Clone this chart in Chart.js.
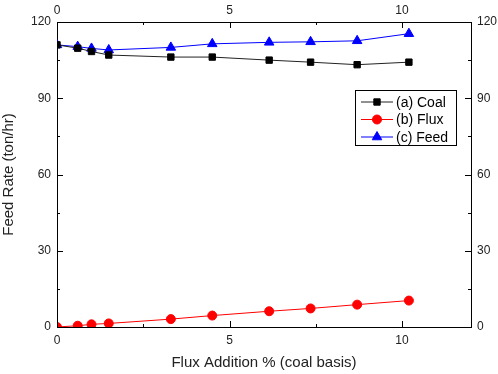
<!DOCTYPE html>
<html lang="en">
<head>
<meta charset="UTF-8">
<title>Feed Rate vs Flux Addition</title>
<script src="https://cdn.jsdelivr.net/npm/chart.js"></script>
<style>
  html, body { margin: 0; padding: 0; background: #fff; }
  #wrap { width: 498px; height: 374px; }
</style>
</head>
<body>
<div id="wrap"><canvas id="feedChart" width="498" height="374"></canvas></div>
<script>
// data
const fluxPct = [0, 0.6, 1.0, 1.5, 3.3, 4.5, 6.15, 7.35, 8.7, 10.2];
const coalRate = [111, 109.7, 108.4, 107.0, 106.2, 106.2, 105.0, 104.2, 103.2, 104.2];
const fluxRate = [0, 0.5, 1.05, 1.4, 3.1, 4.5, 6.2, 7.3, 8.8, 10.4];
const feedRate = [111, 110.3, 109.6, 109.0, 110.0, 111.4, 112.0, 112.2, 112.6, 115.4];
const seriesNames = ['(a) Coal', '(b) Flux', '(c) Feed'];
const xMajor = [0, 5, 10];
const xMinor = [2.5, 7.5];
const yMajor = [0, 30, 60, 90, 120];
const yMinor = [15, 45, 75, 105];

Chart.defaults.font.family = "'Liberation Sans', Arial, sans-serif";
Chart.defaults.font.size = 12;
Chart.defaults.color = '#222';

function pts(ys) {
    return fluxPct.map((x, i) => ({ x: x, y: ys[i] }));
}

// ticks drawn inward on all four sides
const innerTicks = {
    id: 'innerTicks',
    afterDraw(chart) {
        const ctx = chart.ctx, a = chart.chartArea;
        const sx = chart.scales.x, sy = chart.scales.y;
        ctx.save();
        ctx.strokeStyle = '#000';
        ctx.lineWidth = 1;
        ctx.beginPath();
        const doX = (v, len) => {
            const p = Math.round(sx.getPixelForValue(v)) + 0.5;
            ctx.moveTo(p, a.bottom); ctx.lineTo(p, a.bottom - len);
            ctx.moveTo(p, a.top); ctx.lineTo(p, a.top + len);
        };
        const doY = (v, len) => {
            const p = Math.round(sy.getPixelForValue(v)) + 0.5;
            ctx.moveTo(a.left, p); ctx.lineTo(a.left + len, p);
            ctx.moveTo(a.right, p); ctx.lineTo(a.right - len, p);
        };
        xMajor.forEach(v => doX(v, 6));
        xMinor.forEach(v => doX(v, 3));
        yMajor.forEach(v => doY(v, 6));
        yMinor.forEach(v => doY(v, 3));
        ctx.stroke();
        ctx.restore();
    }
};

// boxed legend inside the plot
const boxLegend = {
    id: 'boxLegend',
    afterDraw(chart) {
        const ctx = chart.ctx;
        const bx = 355.5, by = 90.5, bw = 101, bh = 55;
        ctx.save();
        ctx.fillStyle = '#fff';
        ctx.fillRect(bx, by, bw, bh);
        ctx.strokeStyle = '#000';
        ctx.lineWidth = 1;
        ctx.strokeRect(bx, by, bw, bh);
        ctx.font = "14px 'Liberation Sans', Arial, sans-serif";
        ctx.textBaseline = 'middle';
        chart.data.datasets.forEach((ds, i) => {
            const y = 102 + i * 17.5;
            ctx.strokeStyle = ds.borderColor;
            ctx.lineWidth = 1;
            ctx.beginPath();
            ctx.moveTo(361, y); ctx.lineTo(393, y);
            ctx.stroke();
            ctx.fillStyle = ds.pointBackgroundColor;
            ctx.strokeStyle = ds.pointBorderColor;
            Chart.helpers.drawPoint(ctx, {
                pointStyle: ds.pointStyle,
                radius: ds.pointRadius,
                rotation: 0,
                borderWidth: 1
            }, 377, y);
            ctx.fillStyle = '#000';
            ctx.fillText(ds.label, 396, y + 1);
        });
        ctx.restore();
    }
};

const axisFont = { size: 12 };
const ctx = document.getElementById('feedChart').getContext('2d');
const feedChart = new Chart(ctx, {
    type: 'line',
    data: {
        datasets: [{
            label: seriesNames[0],
            data: pts(coalRate),
            borderColor: '#222',
            backgroundColor: '#000',
            pointBackgroundColor: '#000',
            pointBorderColor: '#000',
            pointStyle: 'rect',
            pointRadius: 4.5,
            borderWidth: 1
        }, {
            label: seriesNames[1],
            data: pts(fluxRate),
            borderColor: '#ff0000',
            backgroundColor: '#ff0000',
            pointBackgroundColor: '#ff0000',
            pointBorderColor: '#ff0000',
            pointStyle: 'circle',
            pointRadius: 4.5,
            borderWidth: 1
        }, {
            label: seriesNames[2],
            data: pts(feedRate),
            borderColor: '#0000ff',
            backgroundColor: '#0000ff',
            pointBackgroundColor: '#0000ff',
            pointBorderColor: '#0000ff',
            pointStyle: 'triangle',
            pointRadius: 5.5,
            borderWidth: 1
        }]
    },
    options: {
        responsive: false,
        animation: false,
        layout: { padding: 0 },
        plugins: {
            legend: { display: false },
            tooltip: { enabled: false }
        },
        scales: {
            x: {
                type: 'linear', position: 'bottom', min: 0, max: 12,
                afterBuildTicks: s => { s.ticks = xMajor.map(v => ({ value: v })); },
                ticks: { font: axisFont, padding: 6, maxRotation: 0 },
                grid: { display: false, drawTicks: false },
                border: { color: '#000', width: 1 },
                title: { display: true, text: 'Flux Addition % (coal basis)', font: { size: 15 }, padding: { top: 4, bottom: 2 } },
                afterFit: s => { s.height = 47; }
            },
            x2: {
                type: 'linear', position: 'top', min: 0, max: 12,
                afterBuildTicks: s => { s.ticks = xMajor.map(v => ({ value: v })); },
                ticks: { font: axisFont, padding: 4, maxRotation: 0 },
                grid: { display: false, drawTicks: false },
                border: { color: '#000', width: 1 },
                afterFit: s => { s.height = 22; }
            },
            y: {
                type: 'linear', position: 'left', min: 0, max: 120,
                afterBuildTicks: s => { s.ticks = yMajor.map(v => ({ value: v })); },
                ticks: { font: axisFont, padding: 6 },
                grid: { display: false, drawTicks: false },
                border: { color: '#000', width: 1 },
                title: { display: true, text: 'Feed Rate (ton/hr)', font: { size: 15 }, padding: { top: 0, bottom: 4 } },
                afterFit: s => { s.width = 57; }
            },
            y2: {
                type: 'linear', position: 'right', min: 0, max: 120,
                afterBuildTicks: s => { s.ticks = yMajor.map(v => ({ value: v })); },
                ticks: { font: axisFont, padding: 6 },
                grid: { display: false, drawTicks: false },
                border: { color: '#000', width: 1 },
                afterFit: s => { s.width = 27; }
            }
        }
    },
    plugins: [innerTicks, boxLegend]
});
</script>
</body>
</html>
